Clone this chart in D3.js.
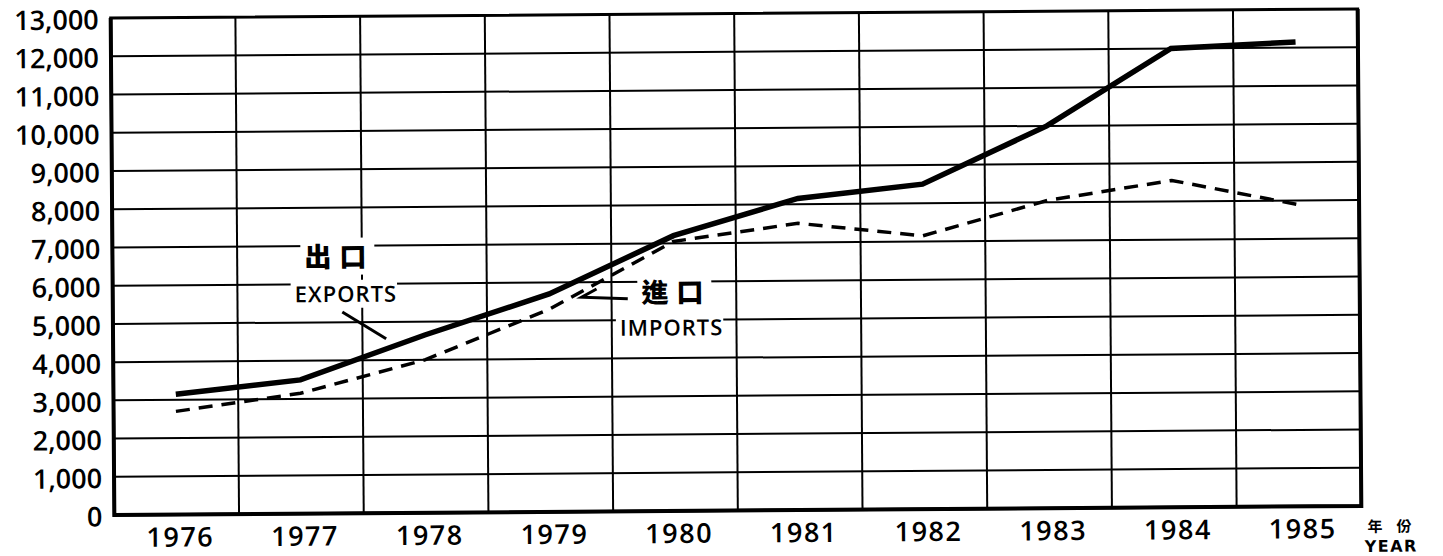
<!DOCTYPE html>
<html>
<head>
<meta charset="utf-8">
<script src="https://cdn.jsdelivr.net/npm/d3@7"></script>
<style>
  body { margin: 0; background: #fff; }
  svg { display: block; }
</style>
</head>
<body>
<div id="chart"></div>
<script>
const years = [1976, 1977, 1978, 1979, 1980, 1981, 1982, 1983, 1984, 1985];
const exportsVal = [3150, 3500, 4650, 5700, 7200, 8150, 8500, 10000, 12000, 12150];
const importsVal = [2700, 3150, 4000, 5300, 7050, 7500, 7150, 8050, 8550, 7900];
const yTicks = d3.range(0, 13001, 1000);

// labels anchored in data space (year, value)
const notes = [
  { text: "出口", year: 1977.32, value: 6450, kind: "cjk" },
  { text: "EXPORTS", year: 1977.37, value: 5530, kind: "latin" },
  { text: "進口", year: 1980.02, value: 5460, kind: "cjk" },
  { text: "IMPORTS", year: 1979.98, value: 4590, kind: "latin" }
];
const pointers = [
  [[1977.34, 5270], [1977.69, 4560]],
  [[1979.38, 5820], [1979.26, 5610], [1979.63, 5560]]
];

(() => {
  const width = 1443, height = 556;
  const margin = { top: 13.5, right: 83.5, bottom: 45.5, left: 112.5 };
  const innerW = width - margin.left - margin.right;
  const innerH = height - margin.top - margin.bottom;
  const left = margin.left, right = margin.left + innerW;
  const top = margin.top, bottom = margin.top + innerH;

  const svg = d3.select("#chart").append("svg")
    .attr("width", width)
    .attr("height", height);

  // the scanned page is slightly skewed
  const g = svg.append("g")
    .attr("transform", `rotate(-0.42, ${(left + right) / 2}, ${(top + bottom) / 2})`);

  const x = d3.scalePoint().domain(years).range([left, right]).padding(0.5);
  const step = x.step();
  const xl = d3.scaleLinear().domain([years[0], years[years.length - 1]])
    .range([x(years[0]), x(years[years.length - 1])]);
  const y = d3.scaleLinear().domain([0, 13000]).range([bottom, top]);

  // grid
  g.append("g").selectAll("line")
    .data(yTicks.slice(1, -1))
    .join("line")
    .attr("x1", left).attr("x2", right)
    .attr("y1", d => y(d)).attr("y2", d => y(d))
    .attr("stroke", "#000").attr("stroke-width", 2);

  g.append("g").selectAll("line")
    .data(years.slice(0, -1))
    .join("line")
    .attr("x1", d => x(d) + step / 2).attr("x2", d => x(d) + step / 2)
    .attr("y1", top).attr("y2", bottom)
    .attr("stroke", "#000").attr("stroke-width", 2);

  // frame
  g.append("rect")
    .attr("x", left).attr("y", top)
    .attr("width", innerW).attr("height", innerH)
    .attr("fill", "none").attr("stroke", "#000").attr("stroke-width", 3);
  g.append("path")
    .attr("d", `M${left},${top}V${bottom}H${right}V${top}`)
    .attr("fill", "none").attr("stroke", "#000").attr("stroke-width", 4);

  // y axis labels
  const yAxis = g.append("g")
    .attr("transform", `translate(${left - 12},0)`)
    .call(d3.axisLeft(y).tickValues(yTicks).tickSize(0).tickPadding(0).tickFormat(d3.format(",")));
  yAxis.select(".domain").remove();
  yAxis.selectAll("text")
    .attr("fill", "#000")
    .attr("dy", "0.4em")
    .style("font-family", "'Open Sans', sans-serif")
    .style("font-size", "27px")
    .style("font-weight", "600");

  // x axis labels
  const xAxis = g.append("g")
    .attr("transform", `translate(0,${bottom + 32})`)
    .call(d3.axisBottom(x).tickSize(0).tickPadding(0));
  xAxis.select(".domain").remove();
  xAxis.selectAll("text")
    .attr("fill", "#000")
    .attr("y", 0)
    .attr("dy", 0)
    .attr("dx", 3)
    .style("font-family", "'Open Sans', sans-serif")
    .style("font-size", "27px")
    .style("font-weight", "600")
    .style("letter-spacing", "1.5px");

  // unit label
  g.append("text")
    .attr("x", right + 6).attr("y", bottom + 26)
    .style("font-family", "'Noto Sans CJK TC', sans-serif")
    .style("font-size", "15px").style("font-weight", "700")
    .style("letter-spacing", "14px")
    .text("年份");
  g.append("text")
    .attr("x", right + 3).attr("y", bottom + 46)
    .style("font-family", "'DejaVu Sans', sans-serif")
    .style("font-size", "16px").style("font-weight", "700")
    .style("letter-spacing", "1.5px")
    .text("YEAR");

  // annotation text with white backing to break the grid
  const bgLayer = g.append("g");
  const lineLayer = g.append("g");
  const textLayer = g.append("g");

  notes.forEach(n => {
    const t = textLayer.append("text")
      .attr("x", xl(n.year)).attr("y", y(n.value))
      .attr("text-anchor", "middle")
      .text(n.text);
    if (n.kind === "cjk") {
      t.style("font-family", "'Noto Sans CJK TC', sans-serif")
        .style("font-size", "27px").style("font-weight", "900")
        .style("letter-spacing", "8px");
    } else {
      t.style("font-family", "'Open Sans', sans-serif")
        .style("font-size", "22px").style("font-weight", "600")
        .style("letter-spacing", "1px");
    }
    const b = t.node().getBBox();
    bgLayer.append("rect")
      .attr("x", b.x - 4).attr("y", b.y + 2)
      .attr("width", b.width + 4).attr("height", b.height - 2)
      .attr("fill", "#fff");
  });

  pointers.forEach(p => {
    lineLayer.append("path")
      .attr("d", d3.line().x(d => xl(d[0])).y(d => y(d[1]))(p))
      .attr("fill", "none").attr("stroke", "#000").attr("stroke-width", 3);
  });

  const line = d3.line()
    .x((d, i) => x(years[i]))
    .y(d => y(d));

  lineLayer.append("path")
    .datum(importsVal)
    .attr("d", line)
    .attr("fill", "none").attr("stroke", "#000")
    .attr("stroke-width", 3.5)
    .attr("stroke-dasharray", "14,9");

  lineLayer.append("path")
    .datum(exportsVal)
    .attr("d", line)
    .attr("fill", "none").attr("stroke", "#000")
    .attr("stroke-width", 5.5);
})();
</script>
</body>
</html>
